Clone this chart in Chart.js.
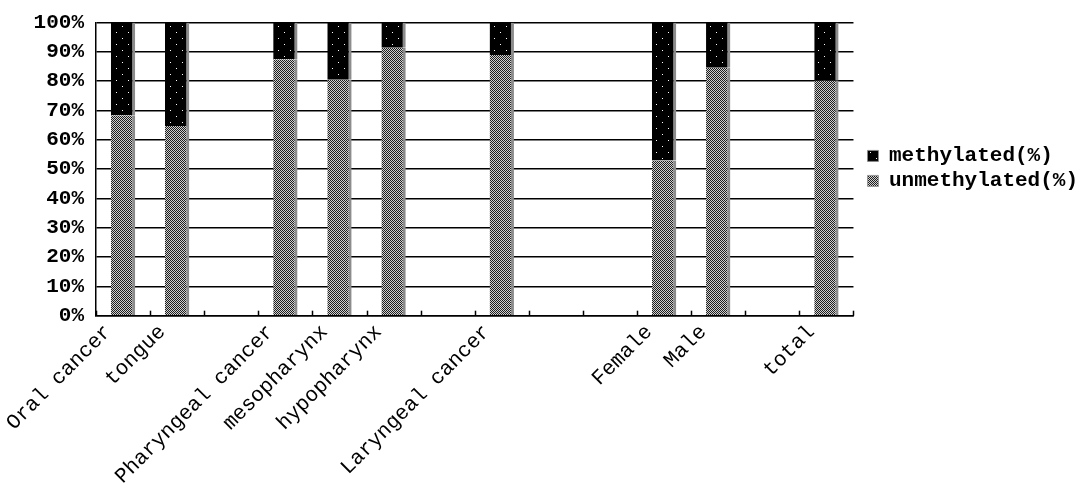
<!DOCTYPE html>
<html><head><meta charset="utf-8">
<script src="https://cdn.jsdelivr.net/npm/chart.js@4/dist/chart.umd.min.js"></script>
<style>html,body{margin:0;padding:0;background:#fff}#wrap{width:1087px;height:501px}</style>
</head><body><div id="wrap"><canvas id="c" width="1087" height="501"></canvas></div>
<script>
const categories = ['Oral cancer','tongue','','Pharyngeal cancer','mesopharynx','hypopharynx','','Laryngeal cancer','','','Female','Male','','total'];
const unmethylated = [68.4, 64.7, null, 87.5, 80.5, 91.4, null, 88.9, null, null, 52.9, 84.6, null, 80.2];
const methylated   = [31.6, 35.3, null, 12.5, 19.5, 8.6, null, 11.1, null, null, 47.1, 15.4, null, 19.8];
const yTicks = [0,10,20,30,40,50,60,70,80,90,100];

function makeTile(w, h, bg, fg, pts) {
  const t = document.createElement('canvas'); t.width = w; t.height = h;
  const x = t.getContext('2d'); x.fillStyle = bg; x.fillRect(0,0,w,h);
  x.fillStyle = fg; pts.forEach(p => x.fillRect(p[0], p[1], 1, 1));
  return document.getElementById('c').getContext('2d').createPattern(t, 'repeat');
}
const grayPat = makeTile(2, 2, '#d0d0d0', '#1e1e1e', [[0,0],[1,1]]);
const dotPat = makeTile(12, 12, '#000000', '#ffffff', [[2,2],[8,8]]);

const innerTicks = {
  id: 'innerTicks',
  afterDatasetsDraw(chart) {
    const xs = chart.scales.x, ctx = chart.ctx, b = chart.chartArea.bottom;
    ctx.save(); ctx.strokeStyle = '#000'; ctx.lineWidth = 1.5;
    for (let i = 0; i <= categories.length; i++) {
      const px = Math.round(xs.getPixelForValue(i - 0.5)) + 0.5;
      ctx.beginPath(); ctx.moveTo(px, b); ctx.lineTo(px, b - 5); ctx.stroke();
    }
    ctx.restore();
  }
};

// leave a small gap between the plot area and the legend items
const legendGap = {
  id: 'legendGap',
  beforeLayout(chart) {
    const lg = chart.legend;
    if (lg && !lg._gapPatched) {
      const fit = lg.fit.bind(lg);
      lg.fit = function () { fit(); this.width += 9; };
      const draw = lg.draw.bind(lg);
      lg.draw = function () { const c = this.ctx; c.save(); c.translate(10, 0); draw(); c.restore(); };
      lg._gapPatched = true;
    }
  }
};

const FONT = '"Liberation Mono", "Courier New", monospace';
new Chart(document.getElementById('c'), {
  type: 'bar',
  data: {
    labels: categories,
    datasets: [
      { label: 'unmethylated(%)', data: unmethylated, backgroundColor: grayPat,
        borderColor: '#8c8c8c', borderWidth: {right: 3, left: 0, top: 0, bottom: 0}, borderSkipped: false,
        barPercentage: 0.45, categoryPercentage: 1 },
      { label: 'methylated(%)', data: methylated, backgroundColor: dotPat,
        borderColor: '#8c8c8c', borderWidth: {right: 3, left: 0, top: 0, bottom: 0}, borderSkipped: false,
        barPercentage: 0.45, categoryPercentage: 1 }
    ]
  },
  options: {
    responsive: false, animation: false,
    layout: { padding: { left: 0, top: 1, right: 0, bottom: 8 } },
    plugins: {
      tooltip: { enabled: false },
      legend: {
        position: 'right', reverse: true, align: 'start',
        title: { display: true, text: ' ', padding: { top: 126, bottom: 0 } },
        labels: { color: '#000', boxWidth: 11, boxHeight: 11, padding: 4,
          font: { family: FONT, size: 21, weight: 'bold' } }
      }
    },
    scales: {
      x: {
        stacked: true,
        grid: { display: false, drawTicks: false },
        border: { color: '#000', width: 1.5 },
        ticks: { color: '#000', autoSkip: false, minRotation: 45, maxRotation: 45, padding: 4, labelOffset: -15,
          font: { family: FONT, size: 21 } }
      },
      y: {
        stacked: true, min: 0, max: 100,
        afterBuildTicks(s) { s.ticks = yTicks.map(v => ({ value: v })); },
        afterFit(s) { s.width = 96; },
        grid: { color: '#000', lineWidth: 1.5, drawTicks: false },
        border: { color: '#000', width: 1.5 },
        ticks: { color: '#000', padding: 12, callback: v => v + '%',
          font: { family: FONT, size: 21, weight: 'bold', lineHeight: 1 } }
      }
    }
  },
  plugins: [innerTicks, legendGap]
});
</script></body></html>
